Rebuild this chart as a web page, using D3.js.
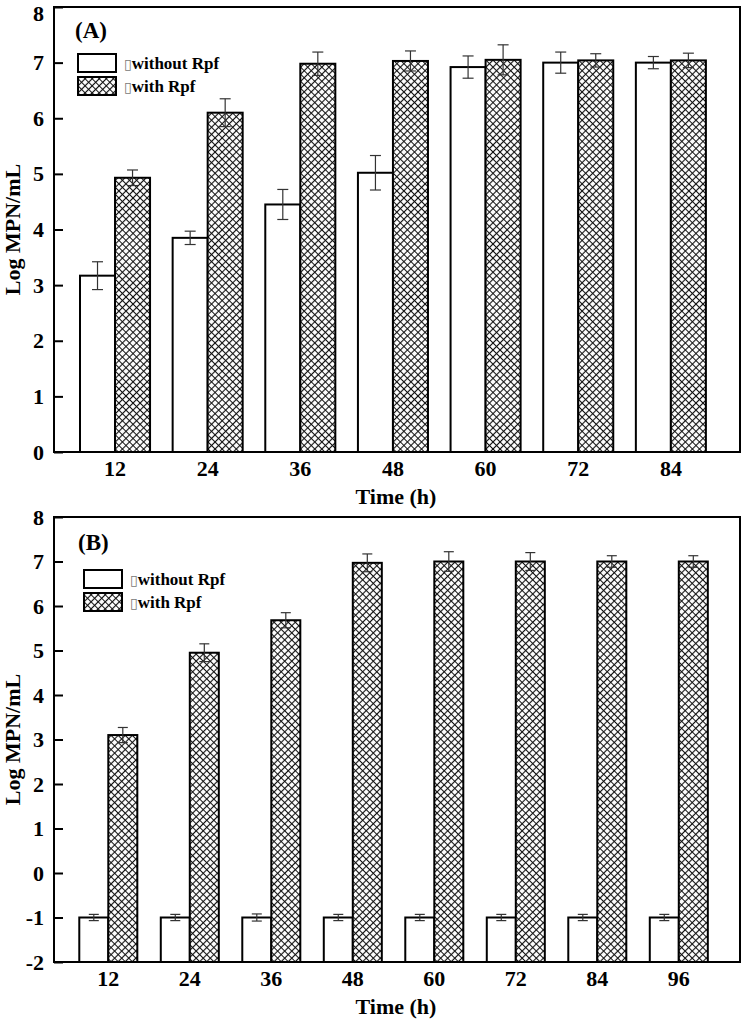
<!DOCTYPE html>
<html><head><meta charset="utf-8">
<script src="https://cdn.jsdelivr.net/npm/d3@7"></script>
<style>body{margin:0;background:#fff}</style>
</head><body>
<script>
// ---- Data ----
const seriesNames = ["without Rpf", "with Rpf"];

const catsA = [12, 24, 36, 48, 60, 72, 84];
const withoutA = [3.17, 3.85, 4.45, 5.02, 6.92, 7.00, 7.00];
const withoutErrA = [0.25, 0.12, 0.27, 0.31, 0.20, 0.19, 0.11];
const withA = [4.93, 6.10, 6.98, 7.03, 7.05, 7.04, 7.04];
const withErrA = [0.14, 0.25, 0.21, 0.18, 0.27, 0.12, 0.13];
const yTicksA = [0, 1, 2, 3, 4, 5, 6, 7, 8];

const catsB = [12, 24, 36, 48, 60, 72, 84, 96];
const withoutB = [-1.0, -1.0, -1.0, -1.0, -1.0, -1.0, -1.0, -1.0];
const withoutErrB = [0.07, 0.07, 0.08, 0.07, 0.07, 0.07, 0.07, 0.07];
const withB = [3.10, 4.95, 5.68, 6.97, 7.00, 7.00, 7.00, 7.00];
const withErrB = [0.17, 0.20, 0.17, 0.20, 0.22, 0.20, 0.13, 0.13];
const yTicksB = [-2, -1, 0, 1, 2, 3, 4, 5, 6, 7, 8];

const FONT = "'Liberation Serif','Times New Roman',serif";
const svg = d3.select("body").append("svg").attr("width", 741).attr("height", 1019);

const defs = svg.append("defs");
const pat = defs.append("pattern").attr("id", "xh")
  .attr("width", 5).attr("height", 5)
  .attr("patternUnits", "userSpaceOnUse")
  .attr("patternTransform", "rotate(45)");
pat.append("rect").attr("width", 5).attr("height", 5).attr("fill", "#fff");
pat.append("path").attr("d", "M0,2.5H5M2.5,0V5").attr("stroke", "#111").attr("stroke-width", 1.15);

function drawPanel(cfg) {
  const g = svg.append("g");
  const left = 54, right = 740;
  const y = d3.scaleLinear().domain(cfg.yDomain).range([cfg.yBottom, cfg.yTop]);
  const x0 = d3.scaleBand().domain(cfg.cats).range(cfg.xRange)
    .paddingInner(cfg.padInner).paddingOuter(cfg.padInner / 2);
  const x1 = d3.scaleBand().domain(seriesNames).range([0, x0.bandwidth()]);

  const rows = cfg.cats.map((c, i) => ({
    cat: c,
    vals: [
      { s: seriesNames[0], v: cfg.w[i], e: cfg.we[i] },
      { s: seriesNames[1], v: cfg.h[i], e: cfg.he[i] }
    ]
  }));

  const base = cfg.yDomain[0];
  const grp = g.selectAll("g.grp").data(rows).join("g")
    .attr("transform", d => `translate(${x0(d.cat)},0)`);
  grp.selectAll("rect").data(d => d.vals).join("rect")
    .attr("x", d => x1(d.s)).attr("width", x1.bandwidth())
    .attr("y", d => y(d.v)).attr("height", d => y(base) - y(d.v))
    .attr("fill", d => d.s === seriesNames[0] ? "#fff" : "url(#xh)")
    .attr("stroke", "#000").attr("stroke-width", 2);

  // error bars
  const eb = grp.selectAll("g.eb").data(d => d.vals).join("g")
    .attr("stroke", "#333").attr("stroke-width", 1.2).attr("fill", "none");
  eb.append("line")
    .attr("x1", d => x1(d.s) + x1.bandwidth() / 2).attr("x2", d => x1(d.s) + x1.bandwidth() / 2)
    .attr("y1", d => y(d.v + d.e)).attr("y2", d => y(d.v - d.e));
  eb.append("line")
    .attr("x1", d => x1(d.s) + x1.bandwidth() / 2 - cfg.capW / 2).attr("x2", d => x1(d.s) + x1.bandwidth() / 2 + cfg.capW / 2)
    .attr("y1", d => y(d.v + d.e)).attr("y2", d => y(d.v + d.e));
  eb.append("line")
    .attr("x1", d => x1(d.s) + x1.bandwidth() / 2 - cfg.capW / 2).attr("x2", d => x1(d.s) + x1.bandwidth() / 2 + cfg.capW / 2)
    .attr("y1", d => y(d.v - d.e)).attr("y2", d => y(d.v - d.e));

  // frame
  g.append("rect").attr("x", left).attr("y", cfg.yTop)
    .attr("width", right - left).attr("height", cfg.yBottom - cfg.yTop)
    .attr("fill", "none").attr("stroke", "#000").attr("stroke-width", 2);

  // y axis
  const ya = g.append("g").attr("transform", `translate(${left},0)`)
    .call(d3.axisLeft(y).tickValues(cfg.yTicks).tickFormat(d => String(d))
      .tickSize(-9).tickPadding(10));
  ya.select(".domain").remove();
  ya.selectAll("line").attr("stroke", "#000").attr("stroke-width", 2);
  ya.selectAll("text").attr("font-family", FONT).attr("font-weight", "bold")
    .attr("font-size", 22).attr("fill", "#000")
    .attr("dy", d => (d === cfg.yDomain[1] && cfg.yTop < 12) ? "0.6em" : "0.32em");

  // x axis
  const xa = g.append("g").attr("transform", `translate(0,${cfg.yBottom})`)
    .call(d3.axisBottom(x0).tickSize(0).tickPadding(8));
  xa.select(".domain").remove();
  xa.selectAll("text").attr("font-family", FONT).attr("font-weight", "bold")
    .attr("font-size", 22).attr("fill", "#000");

  // axis titles
  g.append("text").attr("x", 396).attr("y", cfg.yBottom + 52)
    .attr("text-anchor", "middle").attr("font-family", FONT).attr("font-weight", "bold")
    .attr("font-size", 22).text("Time (h)");
  g.append("text").attr("transform", `translate(20,${(cfg.yTop + cfg.yBottom) / 2}) rotate(-90)`)
    .attr("text-anchor", "middle").attr("font-family", FONT).attr("font-weight", "bold")
    .attr("font-size", 22).text("Log MPN/mL");

  // panel label
  g.append("text").attr("x", cfg.labelX).attr("y", cfg.labelY)
    .attr("font-family", FONT).attr("font-weight", "bold").attr("font-size", 23)
    .text(cfg.label);

  // legend
  const lg = g.append("g").attr("transform", `translate(${cfg.legX},${cfg.legY})`);
  seriesNames.forEach((s, i) => {
    lg.append("rect").attr("x", 0).attr("y", i * 23).attr("width", 38).attr("height", 18)
      .attr("fill", i === 0 ? "#fff" : "url(#xh)").attr("stroke", "#000").attr("stroke-width", 2);
    const t = lg.append("text").attr("x", 46).attr("y", i * 23 + 15)
      .attr("font-family", FONT).attr("font-weight", "bold").attr("font-size", 17);
    t.append("tspan").attr("font-family", "'DejaVu Sans'").attr("font-weight", "normal")
      .attr("font-size", 14).attr("fill", "#777").text("\u25AF");
    t.append("tspan").text(s);
  });
}

drawPanel({
  cats: catsA, w: withoutA, we: withoutErrA, h: withA, he: withErrA,
  yDomain: [0, 8], yTop: 7, yBottom: 452, yTicks: yTicksA,
  xRange: [68.7, 717.2], padInner: 0.244, capW: 11,
  label: "(A)", labelX: 75, labelY: 38, legX: 78, legY: 54
});
drawPanel({
  cats: catsB, w: withoutB, we: withoutErrB, h: withB, he: withErrB,
  yDomain: [-2, 8], yTop: 517, yBottom: 962, yTicks: yTicksB,
  xRange: [67.55, 719.55], padInner: 0.288, capW: 10,
  label: "(B)", labelX: 78, labelY: 550, legX: 84, legY: 570
});
</script>
</body></html>
